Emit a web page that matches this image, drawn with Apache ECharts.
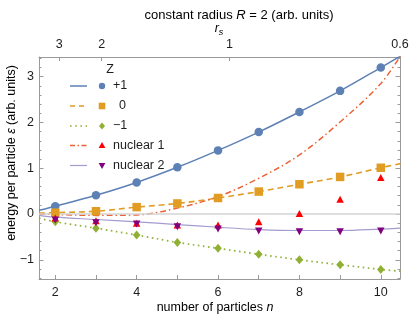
<!DOCTYPE html>
<html>
<head>
<meta charset="utf-8">
<script src="https://cdn.jsdelivr.net/npm/echarts@6/dist/echarts.min.js"></script>
<style>html,body{margin:0;padding:0;background:#fff;}#c{width:415px;height:319px;}</style>
</head>
<body>
<div id="c"></div>
<script>
// ---- data ----
const nVals  = [2, 3, 4, 5, 6, 7, 8, 9, 10];
const zPlus  = [0.17, 0.41, 0.69, 1.02, 1.39, 1.79, 2.23, 2.69, 3.20];
const zZero  = [0.03, 0.06, 0.15, 0.23, 0.35, 0.49, 0.65, 0.81, 1.01];
const zMinus = [-0.17, -0.31, -0.46, -0.62, -0.75, -0.88, -1.00, -1.11, -1.21];
const nuc1   = [-0.09, -0.15, -0.20, -0.24, -0.24, -0.17, 0.01, 0.32, 0.80];
const nuc2   = [-0.13, -0.19, -0.22, -0.28, -0.33, -0.37, -0.39, -0.39, -0.37];

const curveN     = [1.6, 2, 3, 4, 5, 6, 7, 8, 9, 10, 10.48];
const curvePlus  = [0.08, 0.17, 0.41, 0.69, 1.02, 1.39, 1.79, 2.23, 2.69, 3.20, 3.45];
const curveZero  = [0.02, 0.03, 0.06, 0.15, 0.23, 0.35, 0.49, 0.65, 0.81, 1.01, 1.10];
const curveMinus = [-0.09, -0.17, -0.31, -0.46, -0.62, -0.75, -0.88, -1.00, -1.11, -1.21, -1.25];
const curveNuc1  = [0.00, -0.01, -0.03, -0.02, 0.13, 0.38, 0.78, 1.29, 2.01, 2.85, 3.45];
const curveNuc2  = [-0.03, -0.07, -0.12, -0.17, -0.23, -0.29, -0.34, -0.36, -0.36, -0.33, -0.31];

const bottomTicks  = [2, 3, 4, 5, 6, 7, 8, 9, 10];
const bottomLabels = [2, 4, 6, 8, 10];
const leftLabels   = [-1, 0, 1, 2, 3];
const topLabels    = [3, 2, 1, 0.6];   // r_s values, n = 2*pi / r_s
const legendLabels = ['+1', '0', '\u22121', 'nuclear 1', 'nuclear 2'];

// ---- layout ----
const xMin = 1.6, xMax = 2 * Math.PI / 0.6;
const yMin = -1.42, yMax = 3.43;
const FONT = 'Liberation Sans, Arial, sans-serif';
const TXT = '#1e1e1e';
const FRAME = '#9a9a9a';

const C = {
  blue: '#5E81B5', orange: '#E19C24', green: '#8FB032',
  redLine: '#EB6235', redMark: '#FF0000', purpleLine: '#A49BCF', purpleMark: '#800080'
};

const minorY = [];
for (let k = Math.ceil(yMin * 5); k <= Math.floor(yMax * 5); k++) { if (k % 5 !== 0) minorY.push(k / 5); }
const topTickPos = topLabels.map(r => 2 * Math.PI / r);

function zip(xs, ys) { return xs.map((x, i) => [x, ys[i]]); }
const minus = v => (v < 0 ? '\u2212' + Math.abs(v) : String(v));

const baseY = { type: 'value', min: yMin, max: yMax, splitLine: { show: false }, gridIndex: 0 };
const baseX = { type: 'value', min: xMin, max: xMax, splitLine: { show: false }, gridIndex: 0 };

function lineSeries(ys, color, dash, width) {
  return {
    type: 'line', data: zip(curveN, ys), showSymbol: false, smooth: 0.35, silent: true,
    lineStyle: { color: color, width: width, type: dash }, z: 2
  };
}
function scatterSeries(ys, color, symbol, size, rot) {
  return {
    type: 'scatter', data: zip(nVals, ys), symbol: symbol, symbolSize: size, symbolRotate: rot || 0,
    itemStyle: { color: color, opacity: 1 }, z: 5, silent: true
  };
}

const legendY = [86, 106, 126, 145.5, 165.5];
const legendLines = [
  { c: C.blue, d: null, w: 1.5 },
  { c: C.orange, d: [5, 4], w: 1.5 },
  { c: C.green, d: [1.6, 3.6], w: 1.7 },
  { c: C.redLine, d: [5, 2.5, 1.5, 2.5], w: 1.5 },
  { c: C.purpleLine, d: null, w: 1.2 }
];
const graphics = [];
graphics.push({ type: 'text', x: 110, y: 70, style: { text: 'Z', font: '12.5px ' + FONT, fill: TXT, align: 'center', verticalAlign: 'middle' } });
legendY.forEach((y, i) => {
  const L = legendLines[i];
  graphics.push({ type: 'line', shape: { x1: 70, y1: y, x2: 87, y2: y }, style: { stroke: L.c, lineWidth: L.w, lineDash: L.d } });
  const mx = 102;
  let m;
  if (i === 0) m = { type: 'circle', shape: { cx: mx, cy: y, r: 3.2 }, style: { fill: C.blue } };
  else if (i === 1) m = { type: 'rect', shape: { x: mx - 3.3, y: y - 3.3, width: 6.6, height: 6.6 }, style: { fill: C.orange } };
  else if (i === 2) m = { type: 'polygon', shape: { points: [[mx, y - 3.6], [mx + 3, y], [mx, y + 3.6], [mx - 3, y]] }, style: { fill: C.green } };
  else if (i === 3) m = { type: 'polygon', shape: { points: [[mx, y - 3.6], [mx + 3.4, y + 2.6], [mx - 3.4, y + 2.6]] }, style: { fill: C.redMark } };
  else m = { type: 'polygon', shape: { points: [[mx, y + 3.6], [mx + 3.4, y - 2.6], [mx - 3.4, y - 2.6]] }, style: { fill: C.purpleMark } };
  graphics.push(m);
  graphics.push({ type: 'text', x: i === 1 ? 119 : 113, y: y, style: { text: legendLabels[i], font: '12.5px ' + FONT, fill: TXT, align: 'left', verticalAlign: 'middle' } });
});
const rich = {
  a: { fontFamily: FONT, fontSize: 12.5, color: TXT },
  i: { fontFamily: FONT, fontSize: 12.5, color: TXT, fontStyle: 'italic' },
  s: { fontFamily: FONT, fontSize: 9, color: TXT, fontStyle: 'italic', verticalAlign: 'bottom', padding: [6, 0, 0, 0] }
};
const richT = {
  a: { fontFamily: FONT, fontSize: 13, color: TXT },
  i: { fontFamily: FONT, fontSize: 13, color: TXT, fontStyle: 'italic' }
};
graphics.push({ type: 'text', x: 239, y: 15, style: { text: '{a|constant radius }{i|R}{a| = 2 (arb. units)}', rich: richT, align: 'center', verticalAlign: 'middle' } });
graphics.push({ type: 'text', x: 219, y: 29, style: { text: '{i|r}{s|s}', rich: rich, align: 'center', verticalAlign: 'middle' } });
graphics.push({ type: 'text', x: 215, y: 308, style: { text: '{a|number of particles }{i|n}', rich: rich, align: 'center', verticalAlign: 'middle' } });
graphics.push({ type: 'text', x: 12, y: 153, rotation: Math.PI / 2, style: { text: '{a|energy per particle }{i|\u03b5}{a| (arb. units)}', rich: rich, align: 'center', verticalAlign: 'middle' } });

const chart = echarts.init(document.getElementById('c'), null, { renderer: 'canvas' });
chart.setOption({
  animation: false,
  backgroundColor: '#fff',
  grid: { left: 39, right: 15, top: 57, bottom: 40, containLabel: false },
  xAxis: [
    Object.assign({}, baseX, {
      position: 'bottom',
      axisLine: { show: true, onZero: false, lineStyle: { color: FRAME, width: 1 } },
      axisTick: { show: true, inside: true, length: 4, customValues: bottomTicks, lineStyle: { color: FRAME } },
      axisLabel: { show: true, customValues: bottomLabels, margin: 7, color: TXT, fontSize: 12.5, fontFamily: FONT }
    }),
    Object.assign({}, baseX, {
      position: 'top',
      axisLine: { show: true, onZero: false, lineStyle: { color: FRAME, width: 1 } },
      axisTick: { show: true, inside: true, length: 4, customValues: topTickPos, lineStyle: { color: FRAME } },
      axisLabel: {
        show: true, customValues: topTickPos, margin: 6, color: TXT, fontSize: 12.5, fontFamily: FONT,
        showMinLabel: true, showMaxLabel: true,
        formatter: v => { const r = 2 * Math.PI / v; const m = topLabels.find(t => Math.abs(t - r) < 1e-6); return m === undefined ? '' : String(m); }
      }
    })
  ],
  yAxis: [
    Object.assign({}, baseY, {
      position: 'left',
      axisLine: { show: true, onZero: false, lineStyle: { color: FRAME, width: 1 } },
      axisTick: { show: true, inside: true, length: 4.5, customValues: leftLabels, lineStyle: { color: FRAME } },
      axisLabel: { show: true, customValues: leftLabels, margin: 5, color: TXT, fontSize: 12.5, fontFamily: FONT, formatter: minus }
    }),
    Object.assign({}, baseY, {
      position: 'left',
      axisLine: { show: false },
      axisTick: { show: true, inside: true, length: 2.5, customValues: minorY, lineStyle: { color: FRAME } },
      axisLabel: { show: false }
    }),
    Object.assign({}, baseY, {
      position: 'right',
      axisLine: { show: true, onZero: false, lineStyle: { color: FRAME, width: 1 } },
      axisTick: { show: true, inside: true, length: 4.5, customValues: leftLabels, lineStyle: { color: FRAME } },
      axisLabel: { show: false }
    }),
    Object.assign({}, baseY, {
      position: 'right',
      axisLine: { show: false },
      axisTick: { show: true, inside: true, length: 2.5, customValues: minorY, lineStyle: { color: FRAME } },
      axisLabel: { show: false }
    })
  ],
  series: [
    {
      type: 'line', data: [], silent: true,
      markLine: { silent: true, symbol: 'none', label: { show: false },
        lineStyle: { color: '#d4d4d4', width: 1.6, type: 'solid' }, data: [{ yAxis: 0 }] }
    },
    lineSeries(curvePlus, C.blue, 'solid', 1.5),
    lineSeries(curveZero, C.orange, [6, 4], 1.6),
    lineSeries(curveMinus, C.green, [1.6, 3.6], 1.7),
    lineSeries(curveNuc1, C.redLine, [6, 3, 1.5, 3], 1.5),
    lineSeries(curveNuc2, C.purpleLine, 'solid', 1.2),
    scatterSeries(zPlus, C.blue, 'circle', 8.5),
    scatterSeries(zZero, C.orange, 'rect', 8.5),
    scatterSeries(zMinus, C.green, 'diamond', [7.5, 9]),
    scatterSeries(nuc1, C.redMark, 'triangle', [7.5, 7]),
    scatterSeries(nuc2, C.purpleMark, 'triangle', [7.5, 7], 180)
  ],
  graphic: graphics
});
</script>
</body>
</html>
